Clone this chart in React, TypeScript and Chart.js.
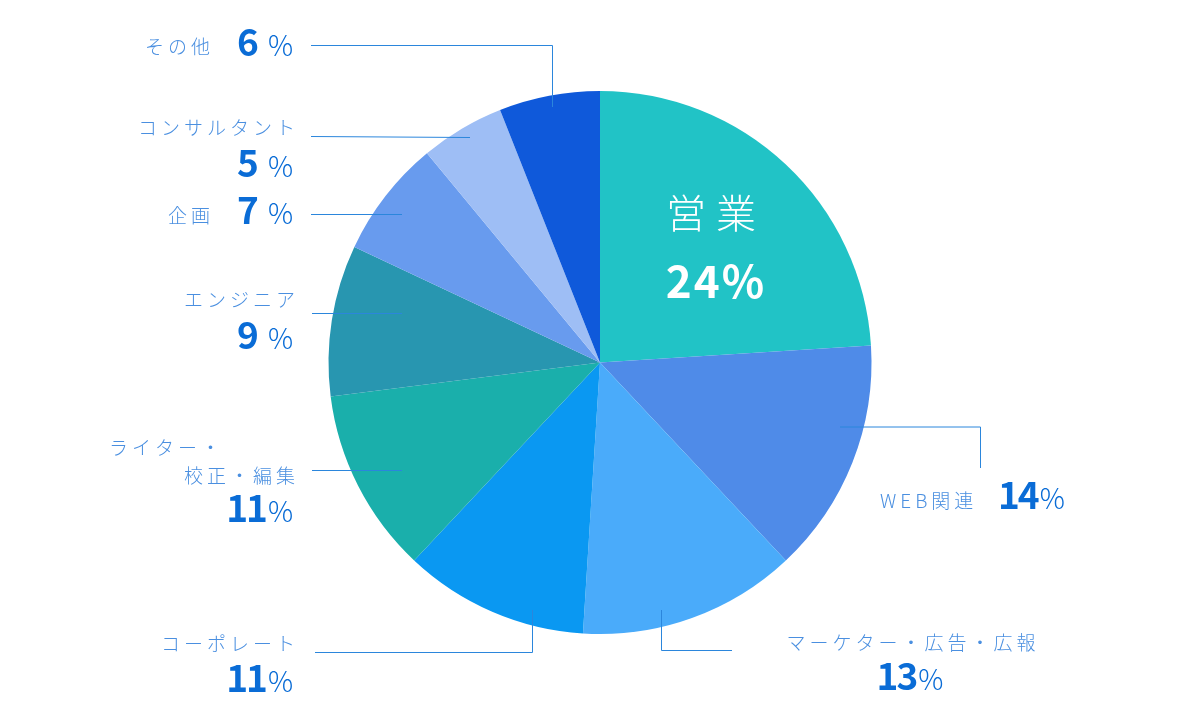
import React, { useEffect, useRef } from "react";
import { Chart, registerables } from "chart.js";

Chart.register(...registerables);

const categories = [
  "営業",
  "WEB関連",
  "マーケター・広告・広報",
  "コーポレート",
  "ライター・校正・編集",
  "エンジニア",
  "企画",
  "コンサルタント",
  "その他",
];
const shares = [24, 14, 13, 11, 11, 9, 7, 5, 6];
const sliceColors = [
  "#21c3c6",
  "#4f8be8",
  "#4aabfa",
  "#0a98f2",
  "#1aafab",
  "#2896b0",
  "#689bee",
  "#9ebef5",
  "#0f59da",
];

const FONT = '"Noto Sans CJK JP", "Noto Sans", sans-serif';
const LABEL_COLOR = "#4a8fe0";
const PCT_COLOR = "#0a6cd6";
const LINE_COLOR = "#2b86dc";

type Layout = {
  lines: { text: string; x: number; y: number; align: CanvasTextAlign }[];
  pct: { x: number; y: number; align: "right" | "center" | "left" };
  leader: [number, number][];
};

// index matches categories
const layouts: Layout[] = [
  { lines: [], pct: { x: 0, y: 0, align: "center" }, leader: [] },
  {
    lines: [{ text: "WEB関連", x: 880, y: 501, align: "left" }],
    pct: { x: 998, y: 509, align: "left" },
    leader: [[840, 427], [980.5, 427], [980.5, 468]],
  },
  {
    lines: [{ text: "マーケター・広告・広報", x: 911, y: 643, align: "center" }],
    pct: { x: 910, y: 690, align: "center" },
    leader: [[661.5, 610], [661.5, 650.5], [732, 650.5]],
  },
  {
    lines: [{ text: "コーポレート", x: 295, y: 644, align: "right" }],
    pct: { x: 293, y: 692, align: "right" },
    leader: [[315, 652.5], [532.5, 652.5], [532.5, 610]],
  },
  {
    lines: [
      { text: "ライター・", x: 109, y: 448, align: "left" },
      { text: "校正・編集", x: 295, y: 476, align: "right" },
    ],
    pct: { x: 293, y: 522, align: "right" },
    leader: [[312, 470.5], [402, 470.5]],
  },
  {
    lines: [{ text: "エンジニア", x: 295, y: 300, align: "right" }],
    pct: { x: 293, y: 349, align: "right" },
    leader: [[312, 313.5], [402, 313.5]],
  },
  {
    lines: [{ text: "企画", x: 210, y: 216, align: "right" }],
    pct: { x: 293, y: 224, align: "right" },
    leader: [[311, 214.5], [402, 214.5]],
  },
  {
    lines: [{ text: "コンサルタント", x: 295, y: 128, align: "right" }],
    pct: { x: 293, y: 177, align: "right" },
    leader: [[311, 136.5], [470, 137.5]],
  },
  {
    lines: [{ text: "その他", x: 210, y: 47, align: "right" }],
    pct: { x: 293, y: 56, align: "right" },
    leader: [[311, 45.5], [552.5, 45.5], [552.5, 107]],
  },
];

const labelPlugin = {
  id: "customLabels",
  afterDraw(chart: Chart) {
    const ctx = chart.ctx;
    ctx.save();
    // leader lines
    ctx.strokeStyle = LINE_COLOR;
    ctx.lineWidth = 1;
    layouts.forEach((l) => {
      if (l.leader.length < 2) return;
      ctx.beginPath();
      ctx.moveTo(l.leader[0][0], l.leader[0][1]);
      for (let i = 1; i < l.leader.length; i++) ctx.lineTo(l.leader[i][0], l.leader[i][1]);
      ctx.stroke();
    });

    // category labels
    layouts.forEach((l) => {
      l.lines.forEach((ln) => {
        ctx.font = `300 19px ${FONT}`;
        (ctx as any).letterSpacing = "4px";
        ctx.fillStyle = LABEL_COLOR;
        ctx.textBaseline = "middle";
        ctx.textAlign = "left";
        const w = ctx.measureText(ln.text).width - 4;
        let x = ln.x;
        if (ln.align === "right") x = ln.x - w;
        else if (ln.align === "center") x = ln.x - w / 2;
        ctx.fillText(ln.text, x, ln.y);
      });
    });
    (ctx as any).letterSpacing = "0px";

    // percentages
    layouts.forEach((l, i) => {
      if (i === 0) return;
      const num = String(shares[i]);
      const gap = num.length === 1 ? 9 : 2;
      ctx.font = `bold 37px ${FONT}`;
      (ctx as any).letterSpacing = num.length === 1 ? "0px" : "-2px";
      const nw = ctx.measureText(num).width;
      ctx.font = `300 28px ${FONT}`;
      (ctx as any).letterSpacing = "0px";
      const pw = ctx.measureText("%").width;
      const total = nw + gap + pw;
      let left = l.pct.x;
      if (l.pct.align === "right") left = l.pct.x - total;
      else if (l.pct.align === "center") left = l.pct.x - total / 2;
      ctx.textBaseline = "alphabetic";
      ctx.textAlign = "left";
      ctx.fillStyle = PCT_COLOR;
      ctx.font = `bold 37px ${FONT}`;
      (ctx as any).letterSpacing = num.length === 1 ? "0px" : "-2px";
      ctx.fillText(num, left, l.pct.y);
      (ctx as any).letterSpacing = "0px";
      ctx.font = `300 28px ${FONT}`;
      ctx.fillText("%", left + nw + gap, l.pct.y);
    });

    // main slice label (inside)
    ctx.fillStyle = "#ffffff";
    ctx.textAlign = "left";
    ctx.textBaseline = "middle";
    ctx.font = `300 40px ${FONT}`;
    (ctx as any).letterSpacing = "10px";
    const t = categories[0];
    const tw = ctx.measureText(t).width - 10;
    ctx.fillText(t, 711 - tw / 2, 213);
    (ctx as any).letterSpacing = "2px";
    ctx.font = `bold 44px ${FONT}`;
    ctx.textBaseline = "alphabetic";
    const p = `${shares[0]}%`;
    const pw2 = ctx.measureText(p).width - 2;
    ctx.fillText(p, 715 - pw2 / 2, 298);
    (ctx as any).letterSpacing = "0px";
    ctx.restore();
  },
};

export default function App() {
  const ref = useRef<HTMLCanvasElement | null>(null);
  useEffect(() => {
    document.body.style.margin = "0";
    if (!ref.current) return;
    const chart = new Chart(ref.current, {
      type: "pie",
      data: {
        labels: categories,
        datasets: [
          {
            data: shares,
            backgroundColor: sliceColors,
            borderWidth: 0,
          },
        ],
      },
      options: {
        animation: false,
        responsive: false,
        layout: { padding: { top: 91, bottom: 84, left: 0, right: 0 } },
        plugins: {
          legend: { display: false },
          tooltip: { enabled: false },
        },
      },
      plugins: [labelPlugin],
    });
    return () => chart.destroy();
  }, []);
  return (
    <div style={{ width: 1200, height: 718, background: "#fff" }}>
      <canvas ref={ref} width={1200} height={718} style={{ display: "block" }} />
    </div>
  );
}
